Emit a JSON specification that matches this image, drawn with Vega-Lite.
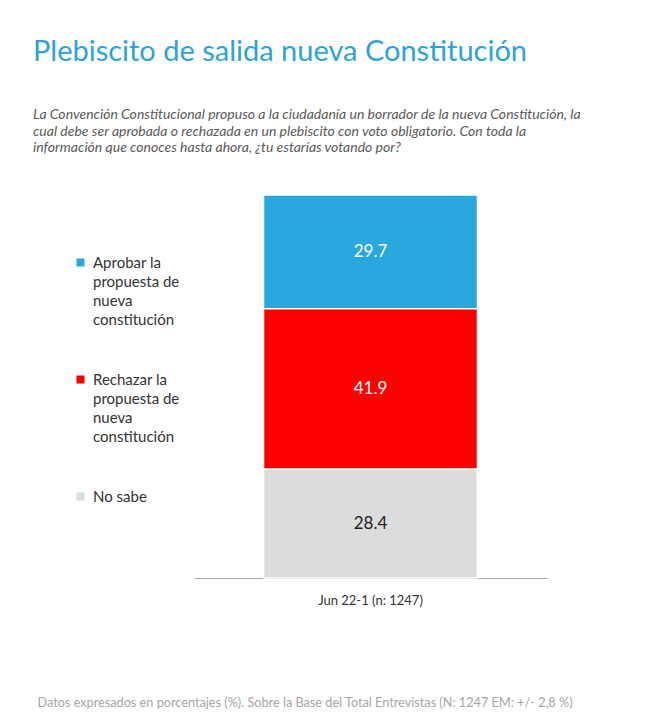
{
  "$schema": "https://vega.github.io/schema/vega-lite/v6.json",
  "width": 353,
  "height": 383,
  "padding": {"left": 33, "top": 38, "right": 5, "bottom": 5},
  "background": "white",
  "title": {
    "text": "Plebiscito de salida nueva Constitución",
    "subtitle": [
      "La Convención Constitucional propuso a la ciudadanía un borrador de la nueva Constitución, la",
      "cual debe ser aprobada o rechazada en un plebiscito con voto obligatorio. Con toda la",
      "información que conoces hasta ahora, ¿tu estarías votando por?"
    ],
    "anchor": "start",
    "frame": "group",
    "dx": -161,
    "font": "Lato",
    "fontSize": 29,
    "fontWeight": "normal",
    "color": "#2ea3d6",
    "subtitleFont": "Lato",
    "subtitleFontStyle": "italic",
    "subtitleFontSize": 14,
    "subtitleColor": "#595959",
    "subtitlePadding": 41,
    "subtitleLineHeight": 16.5,
    "offset": 39
  },
  "data": {
    "values": [
      {"periodo": "Jun 22-1 (n: 1247)", "opcion": "Aprobar la propuesta de nueva constitución", "valor": 29.7, "orden": 3},
      {"periodo": "Jun 22-1 (n: 1247)", "opcion": "Rechazar la propuesta de nueva constitución", "valor": 41.9, "orden": 2},
      {"periodo": "Jun 22-1 (n: 1247)", "opcion": "No sabe", "valor": 28.4, "orden": 1}
    ]
  },
  "encoding": {
    "x": {
      "field": "periodo",
      "type": "nominal",
      "scale": {"paddingInner": 0, "paddingOuter": 0.325},
      "axis": {
        "title": "Datos expresados en porcentajes (%). Sobre la Base del Total Entrevistas (N: 1247  EM: +/- 2,8 %)",
        "titleX": -157,
        "titleY": 124,
        "titleAlign": "left",
        "titleAnchor": "start",
        "titleBaseline": "middle",
        "titleFont": "Lato",
        "titleFontSize": 12.7,
        "titleFontWeight": "normal",
        "titleColor": "#a6a6a6",
        "labelAngle": 0,
        "labelFont": "Lato",
        "labelFontSize": 13,
        "labelColor": "#333333",
        "labelPadding": 16,
        "ticks": false,
        "domainColor": "#a6a6a6"
      }
    },
    "y": {
      "field": "valor",
      "type": "quantitative",
      "stack": "zero",
      "scale": {"domain": [0, 100], "nice": false},
      "axis": null
    },
    "order": {"field": "orden"}
  },
  "layer": [
    {
      "mark": {"type": "bar", "stroke": "white", "strokeWidth": 1.5},
      "encoding": {
        "color": {
          "field": "opcion",
          "type": "nominal",
          "scale": {
            "domain": ["Aprobar la propuesta de nueva constitución", "Rechazar la propuesta de nueva constitución", "No sabe"],
            "range": ["#29a8e0", "#ff0000", "#dcdcdc"]
          },
          "legend": {
            "orient": "none",
            "legendX": -121,
            "legendY": 60,
            "direction": "vertical",
            "title": null,
            "symbolType": "square",
            "symbolSize": 64,
            "symbolStrokeWidth": 0,
            "labelFont": "Lato",
            "labelFontSize": 15,
            "labelColor": "#333333",
            "labelLimit": 200,
            "labelOffset": 5,
            "rowPadding": 44,
            "labelExpr": "datum.value == 'No sabe' ? 'No sabe' : datum.value == 'Aprobar la propuesta de nueva constitución' ? ['Aprobar la', 'propuesta de', 'nueva', 'constitución'] : ['Rechazar la', 'propuesta de', 'nueva', 'constitución']"
          }
        }
      }
    },
    {
      "mark": {"type": "text", "font": "Lato", "fontSize": 17, "baseline": "middle"},
      "encoding": {
        "y": {"field": "valor", "type": "quantitative", "stack": "zero", "bandPosition": 0.5},
        "text": {"field": "valor", "type": "quantitative", "format": ".1f"},
        "color": {
          "condition": {"test": "datum.opcion == 'No sabe'", "value": "#222222"},
          "value": "white"
        }
      }
    }
  ],
  "config": {
    "view": {"stroke": null},
    "style": {"guide-label": {"lineHeight": 19}}
  }
}
